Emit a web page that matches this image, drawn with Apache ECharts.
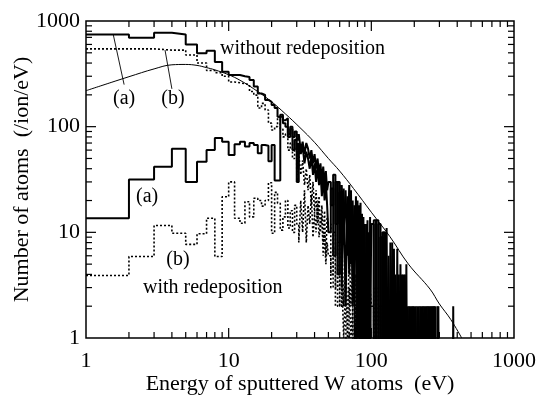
<!DOCTYPE html>
<html><head><meta charset="utf-8">
<script src="https://cdn.jsdelivr.net/npm/echarts@6/dist/echarts.min.js"></script>
<style>html,body{margin:0;padding:0;background:#fff}#c{width:538px;height:396px}</style>
</head><body><div id="c"></div>
<script>
// Bin edges (eV): 1 eV bins to 50, 2 eV to 100, 4 eV to 200, 5 eV to 400
const binEdges = [1,2,3,4,5,6,7,8,9,10,11,12,13,14,15,16,17,18,19,20,21,22,23,24,25,26,27,28,29,30,31,32,33,34,35,36,37,38,39,40,41,42,43,44,45,46,47,48,49,
  50,52,54,56,58,60,62,64,66,68,70,72,74,76,78,80,82,84,86,88,90,92,94,96,98,
  100,104,108,112,116,120,124,128,132,136,140,144,148,152,156,160,164,168,172,176,180,184,188,192,196,
  200,205,210,215,220,225,230,235,240,245,250,255,260,265,270,275,280,285,290,295,300,305,310,315,320,325,330,335,340,345,350,355,360,365,370,375,380,385,390,395,400];

// (a) without redeposition (solid)
const aWithout = [747,694,776,747,600,494,523,410,331,308, 308,300,295,276,240,206,200,179,172,160, 150,124,130,115,120,85,100,80,90,75, 85,60,72,55,70,62,50,60,45,55, 40,50,35,45,30,42,28,38,25,
  30,18,35,12,30,8,28,10,25,6, 28,5,20,3,22,2,18,0,15,0, 12,0,13,0,14,
  0,13,0,12,0,10,0,11,0,8, 0,7,0,7,0,5,0,4,0,5, 0,2,0,2,0,
  2,0,2,0,2,0,2,0,2,0, 2,0,2,0,2,0,2,0,0,2, 0,0,0,0,0,0,0,0,0,0, 0,0,0,0,0,2,0,0,0,0];
// (b) without redeposition (dotted)
const bWithout = [545,545,530,530,476,400,340,325,300,265, 260,255,250,215,199,150,166,144,108,93, 100,123,95,80,85,60,70,50,62,40, 55,35,48,28,40,25,35,18,30,15, 25,12,22,10,18,8,16,6,14,
  12,4,10,3,8,2,9,2,6,1, 7,2,5,0,4,1,5,0,3,0, 4,0,2,0,3,
  0,3,0,2,0,3,0,2,0,2, 0,1,0,2,0,0,2,0,0,0, 0,0,0,0,0,
  0,0,0,0,0,0,0,0,0,0, 0,0,0,0,0,0,0,0,0,0, 0,0,0,0,0,0,0,0,0,0, 0,0,0,0,0,0,0,0,0,0];
// (a) with redeposition (solid)
const aWith = [13.6,31.7,41.8,61.8,29.9,46.5,60,78,72,54, 68,72,65,70,67,56,67,66,47,67, 31,31,124,108,100,80,95,60,75,30, 70,55,65,45,58,50,40,52,35,45, 30,42,28,38,22,35,20,30,18,
  10,26,6,30,4,24,3,26,2,22, 4,25,2,18,0,20,1,19,0,14, 0,12,0,10,1,
  12,0,13,0,9,0,10,0,6,0, 8,0,4,0,4,0,4,0,4,0, 2,0,2,0,2,
  0,2,0,2,0,2,0,2,0,2, 0,2,0,2,0,2,0,0,2,0, 0,0,0,0,0,0,0,0,0,0, 0,0,0,0,0,0,0,0,0,0];
// (b) with redeposition (dotted)
const bWith = [3.9,5.9,11.6,9.8,7.7,9.7,13.6,5.9,21.7,30, 13.6,12.2,19.5,14,21,20,17.7,20,29.5,9.8, 23.9,18.8,10.5,14,20,11,16,10,18,12, 8,20,10,25,8,18,12,22,9,15, 10,20,9,12,14,6,10,5,8,
  6,3,7,2,5,2,4,1,3,0, 3,1,2,0,2,0,3,0,2,0, 4,0,2,0,3,
  2,0,3,0,2,0,2,0,1,0, 2,0,0,0,0,0,0,0,0,0, 0,0,0,0,0,
  0,0,0,0,0,0,0,0,0,0, 0,0,0,0,0,0,0,0,0,0, 0,0,0,0,0,0,0,0,0,0, 0,0,0,0,0,0,0,0,0,0];

// smooth reference curve
const curveE = [1,1.5,2,3,4,5,6,7,8,10,12,15,20,25,31.6,40,50,60,75,100,135,182,258,300,360,430];
const curveV = [219,262,297,352,385,388,380,362,345,310,275,228,172,132,98,71,50,38,26,15.5,9.1,5.0,2.9,2.1,1.5,1.0];

const axisTicks = [1,10,100,1000];
const minorTickValues = [2,3,4,5,6,7,8,9,20,30,40,50,60,70,80,90,200,300,400,500,600,700,800,900];
const majorTickValues = [10,100];

const FLOOR = 0.01; // zero counts fall below the axis and are clipped
function steps(vals){
  const pts=[];
  for(let i=0;i<vals.length;i++){
    const v = vals[i]>0?vals[i]:FLOOR;
    pts.push([binEdges[i],v],[binEdges[i+1],v]);
  }
  return pts;
}

const FONT='Liberation Serif';
const chart=echarts.init(document.getElementById('c'),null,{renderer:'canvas'});
const dotted={color:'#000',width:1.6,type:[2,2]};
const solid={color:'#000',width:2};
const labelFmt=v=>axisTicks.indexOf(Math.round(v))>=0?String(Math.round(v)):'';
chart.setOption({
  animation:false,
  backgroundColor:'#fff',
  grid:{left:86,right:24,top:21,bottom:58,outerBoundsMode:'none',containLabel:false,show:true,borderColor:'#000',borderWidth:1.5,backgroundColor:'transparent'},
  xAxis:{type:'log',logBase:10,min:1,max:1000,
    name:'Energy of sputtered W atoms  (eV)',nameLocation:'middle',nameGap:35,nameMoveOverlap:false,
    nameTextStyle:{fontFamily:FONT,fontSize:22,color:'#000'},
    axisLine:{show:false},axisTick:{show:false},splitLine:{show:false},
    axisLabel:{fontFamily:FONT,fontSize:22,color:'#000',margin:12,formatter:labelFmt}},
  yAxis:{type:'log',logBase:10,min:1,max:1000,
    name:'Number of atoms  (/ion/eV)',nameLocation:'middle',nameGap:53,nameMoveOverlap:false,
    nameTextStyle:{fontFamily:FONT,fontSize:22,color:'#000'},
    axisLine:{show:false},axisTick:{show:false},splitLine:{show:false},
    axisLabel:{fontFamily:FONT,fontSize:22,color:'#000',margin:6,formatter:labelFmt}},
  series:[
    {type:'line',data:curveE.map((e,i)=>[e,curveV[i]]),smooth:0.4,showSymbol:false,symbol:'none',lineStyle:{color:'#000',width:1},z:2},
    {type:'line',data:steps(bWithout),showSymbol:false,symbol:'none',lineStyle:dotted,z:3},
    {type:'line',data:steps(bWith),showSymbol:false,symbol:'none',lineStyle:dotted,z:3},
    {type:'line',data:steps(aWithout),showSymbol:false,symbol:'none',lineStyle:solid,z:4},
    {type:'line',data:steps(aWith),showSymbol:false,symbol:'none',lineStyle:solid,z:4}
  ]
});

// annotations placed in data coordinates
const labels=[
  {t:'without redeposition',e:8.69,v:542,align:'left'},
  {t:'(a)',e:1.85,v:182,align:'center'},
  {t:'(b)',e:4.07,v:182,align:'center'},
  {t:'(a)',e:2.68,v:21.6,align:'center'},
  {t:'(b)',e:4.41,v:5.47,align:'center'},
  {t:'with redeposition',e:2.51,v:2.97,align:'left'}
];
const leaders=[[[1.55,752],[1.85,250]],[[3.58,531],[4.0,228]]];
const toPx=p=>chart.convertToPixel({gridIndex:0},p);
const g=[];
const ln=(x1,y1,x2,y2,w)=>({type:'line',shape:{x1,y1,x2,y2},style:{stroke:'#000',lineWidth:w},z:10,silent:true});
labels.forEach(l=>{const p=toPx([l.e,l.v]);g.push({type:'text',x:p[0],y:p[1],style:{text:l.t,fontFamily:FONT,fontSize:20,fill:'#000',align:l.align,verticalAlign:'middle'},z:10});});
leaders.forEach(s=>{const a=toPx(s[0]),b=toPx(s[1]);g.push(ln(a[0],a[1],b[0],b[1],0.9));});
// inward ticks on all four sides, positioned through the axes' scales
const lo=toPx([1,1]), hi=toPx([1000,1000]);
minorTickValues.concat(majorTickValues).forEach(v=>{
  const len=majorTickValues.indexOf(v)>=0?10:6;
  const px=toPx([v,1])[0], py=toPx([1,v])[1];
  g.push(ln(px,lo[1],px,lo[1]-len,1.2));
  g.push(ln(px,hi[1],px,hi[1]+len,1.2));
  g.push(ln(lo[0],py,lo[0]+len,py,1.2));
  g.push(ln(hi[0],py,hi[0]-len,py,1.2));
});
chart.setOption({graphic:g});
</script></body></html>
